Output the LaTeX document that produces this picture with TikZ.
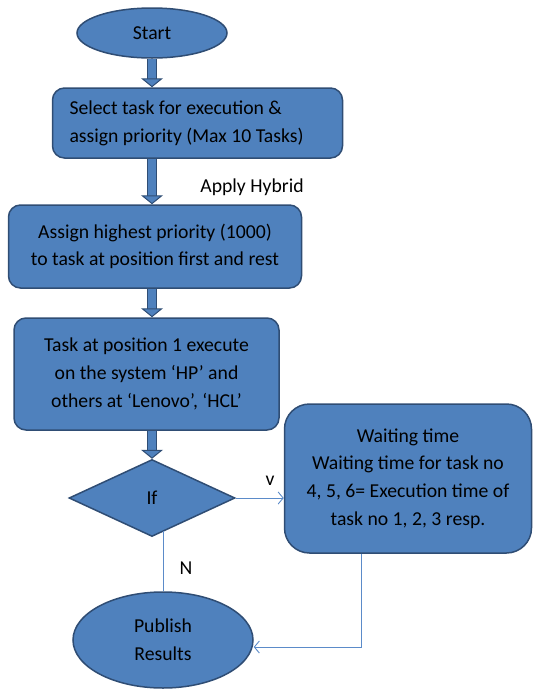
\documentclass[tikz,border=0pt]{standalone}
\usepackage{fontspec}
\setmainfont{Carlito}
\usetikzlibrary{shapes.geometric,arrows.meta,calc}
\definecolor{boxblue}{HTML}{4F81BD}
\definecolor{edgeblue}{HTML}{2F4D74}
\definecolor{lineblue}{HTML}{5B8BC9}
\tikzset{%
	block/.style    = {draw=edgeblue, line width=1.5pt, fill=boxblue, rectangle,
		rounded corners=12pt, align=center, inner sep=0pt},
	term/.style     = {draw=edgeblue, line width=1.5pt, fill=boxblue, ellipse,
		align=center, inner sep=0pt}, % Start / end
	decide/.style   = {draw=edgeblue, line width=1.5pt, fill=boxblue, diamond,
		inner sep=0pt}, % Test
	fatshaft/.style = {draw=edgeblue, line width=1pt, double=boxblue,
		double distance=8pt, shorten >=8pt},
	fathead/.style  = {draw=boxblue, line width=0.5pt,
		-{Triangle[length=9pt,width=22pt,color=edgeblue,fill=boxblue,line width=1pt]}},
	link/.style     = {draw=lineblue, line width=0.9pt},
	barb/.style     = {-{Straight Barb[length=5pt,width=12pt]}},
	tag/.style      = {inner sep=0pt}
}

\begin{document}
\begin{tikzpicture}[x=1pt,y=-1pt,every node/.style={font=\fontsize{19.7}{27.7}\selectfont}]
			\useasboundingbox (0,0) rectangle (533,691);
			\node[term, minimum width=150pt, minimum height=50pt]   (start)   at (152,33)    {Start};
			\node[block, rounded corners=12pt, minimum width=290pt, minimum height=70pt,
			      text width=256pt, align=flush left]               (select)  at (197.5,123) {Select task for execution \&\\assign priority (Max 10 Tasks)};
			\node[block, minimum width=293pt, minimum height=83pt]  (assign)  at (155,246.5) {Assign highest priority (1000)\\to task at position first and rest};
			\node[block, minimum width=265pt, minimum height=112pt] (exec)    at (146.5,374) {Task at position 1 execute\\on the system ‘HP’ and\\others at ‘Lenovo’, ‘HCL’};
			\node[decide, minimum width=166pt, minimum height=77pt] (test)    at (152,498)   {If};
			\node[block, rounded corners=25pt, minimum width=247pt, minimum height=149pt]
			                                                        (wait)    at (408,478.5) {Waiting time\\Waiting time for task no\\4, 5, 6= Execution time of\\task no 1, 2, 3 resp.};
			\node[term, minimum width=180pt, minimum height=96pt]   (publish) at (163,640)   {Publish\\Results};
			\node[tag]                                              (hybrid)  at (252,187)   {Apply Hybrid};
			\node[tag]                                              (yes)     at (270,481)   {v};
			\node[tag]                                              (no)      at (186,568)   {N};

			% fat arrows down the main column
			\foreach \a/\b in {start/select, select/assign, assign/exec, exec/test} {
				\draw[fatshaft] (\a.south -| start) -- (\b.north -| start);
				\draw[fathead]  (\a.south -| start) -- (\b.north -| start);
			}

			\draw[link,barb] (test.east) -- (wait.west |- test.east);
			\draw[link]      ($(test.south -| publish.north)+(0,-6)$) -- (publish.north);
			\draw[link,barb] ([xshift=-47pt]wait.south) |- ([yshift=-7pt]publish.east);
\end{tikzpicture}
\end{document}
